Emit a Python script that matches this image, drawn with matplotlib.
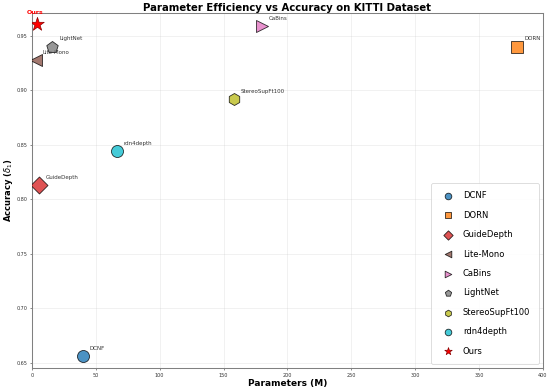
import numpy as np
import matplotlib
matplotlib.use('Agg')
from matplotlib import pyplot as plt

# model data
models = ['DCNF', 'DORN', 'GuideDepth', 'Lite-Mono', 'CaBins', 'LightNet', 'StereoSupFt100', 'rdn4depth']
params = [40, 380, 5.6, 3.1, 180, 16, 158, 66.5]
accuracy = [0.656, 0.940, 0.813, 0.928, 0.959, 0.940, 0.892, 0.844]
markers = ['o', 's', 'D', '<', '>', 'p', 'h', 'o']
colors = ['#1f77b4', '#ff7f0e', '#d62728', '#8c564b', '#e377c2', '#7f7f7f', '#bcbd22', '#17becf']

ours_params = 3.9
ours_acc = 0.961

fig, ax = plt.subplots(figsize=(11, 7.84), dpi=50)
fig.subplots_adjust(left=0.058, right=0.987, bottom=0.061, top=0.967)

for name, x, y, m, c in zip(models, params, accuracy, markers, colors):
    ax.scatter(x, y, s=300, marker=m, color=c, alpha=0.8, edgecolors='black', linewidths=1.2, label=name, zorder=3)
    ax.annotate(name, (x, y), xytext=(10, 9), textcoords='offset points', fontsize=8, alpha=0.8)

# our model
ax.scatter(ours_params, ours_acc, s=420, marker='*', color='red', edgecolors='darkred', linewidths=1, label='Ours', zorder=4)
ax.annotate('Ours', (ours_params, ours_acc), xytext=(-2, 13), textcoords='offset points', fontsize=9,
            color='red', fontweight='bold', ha='center', va='bottom', annotation_clip=False)

ax.set_xlim(0, 400)
ax.set_ylim(0.645, 0.971)
ax.set_xlabel('Parameters (M)', fontsize=13, fontweight='bold', labelpad=2)
ax.set_ylabel(r'Accuracy ($\delta_1$)', fontsize=12, fontweight='bold', labelpad=2)
ax.set_title('Parameter Efficiency vs Accuracy on KITTI Dataset', fontsize=14.5, fontweight='bold', pad=3)
ax.tick_params(labelsize=7, colors='#333333')
ax.grid(True, alpha=0.3)
for sp in ax.spines.values():
    sp.set_color('gray')
    sp.set_linewidth(1.5)

ax.legend(loc='lower right', fontsize=12, markerscale=0.55, borderpad=1, labelspacing=1.25, framealpha=0.9)

plt.savefig('out.png', dpi=50)
